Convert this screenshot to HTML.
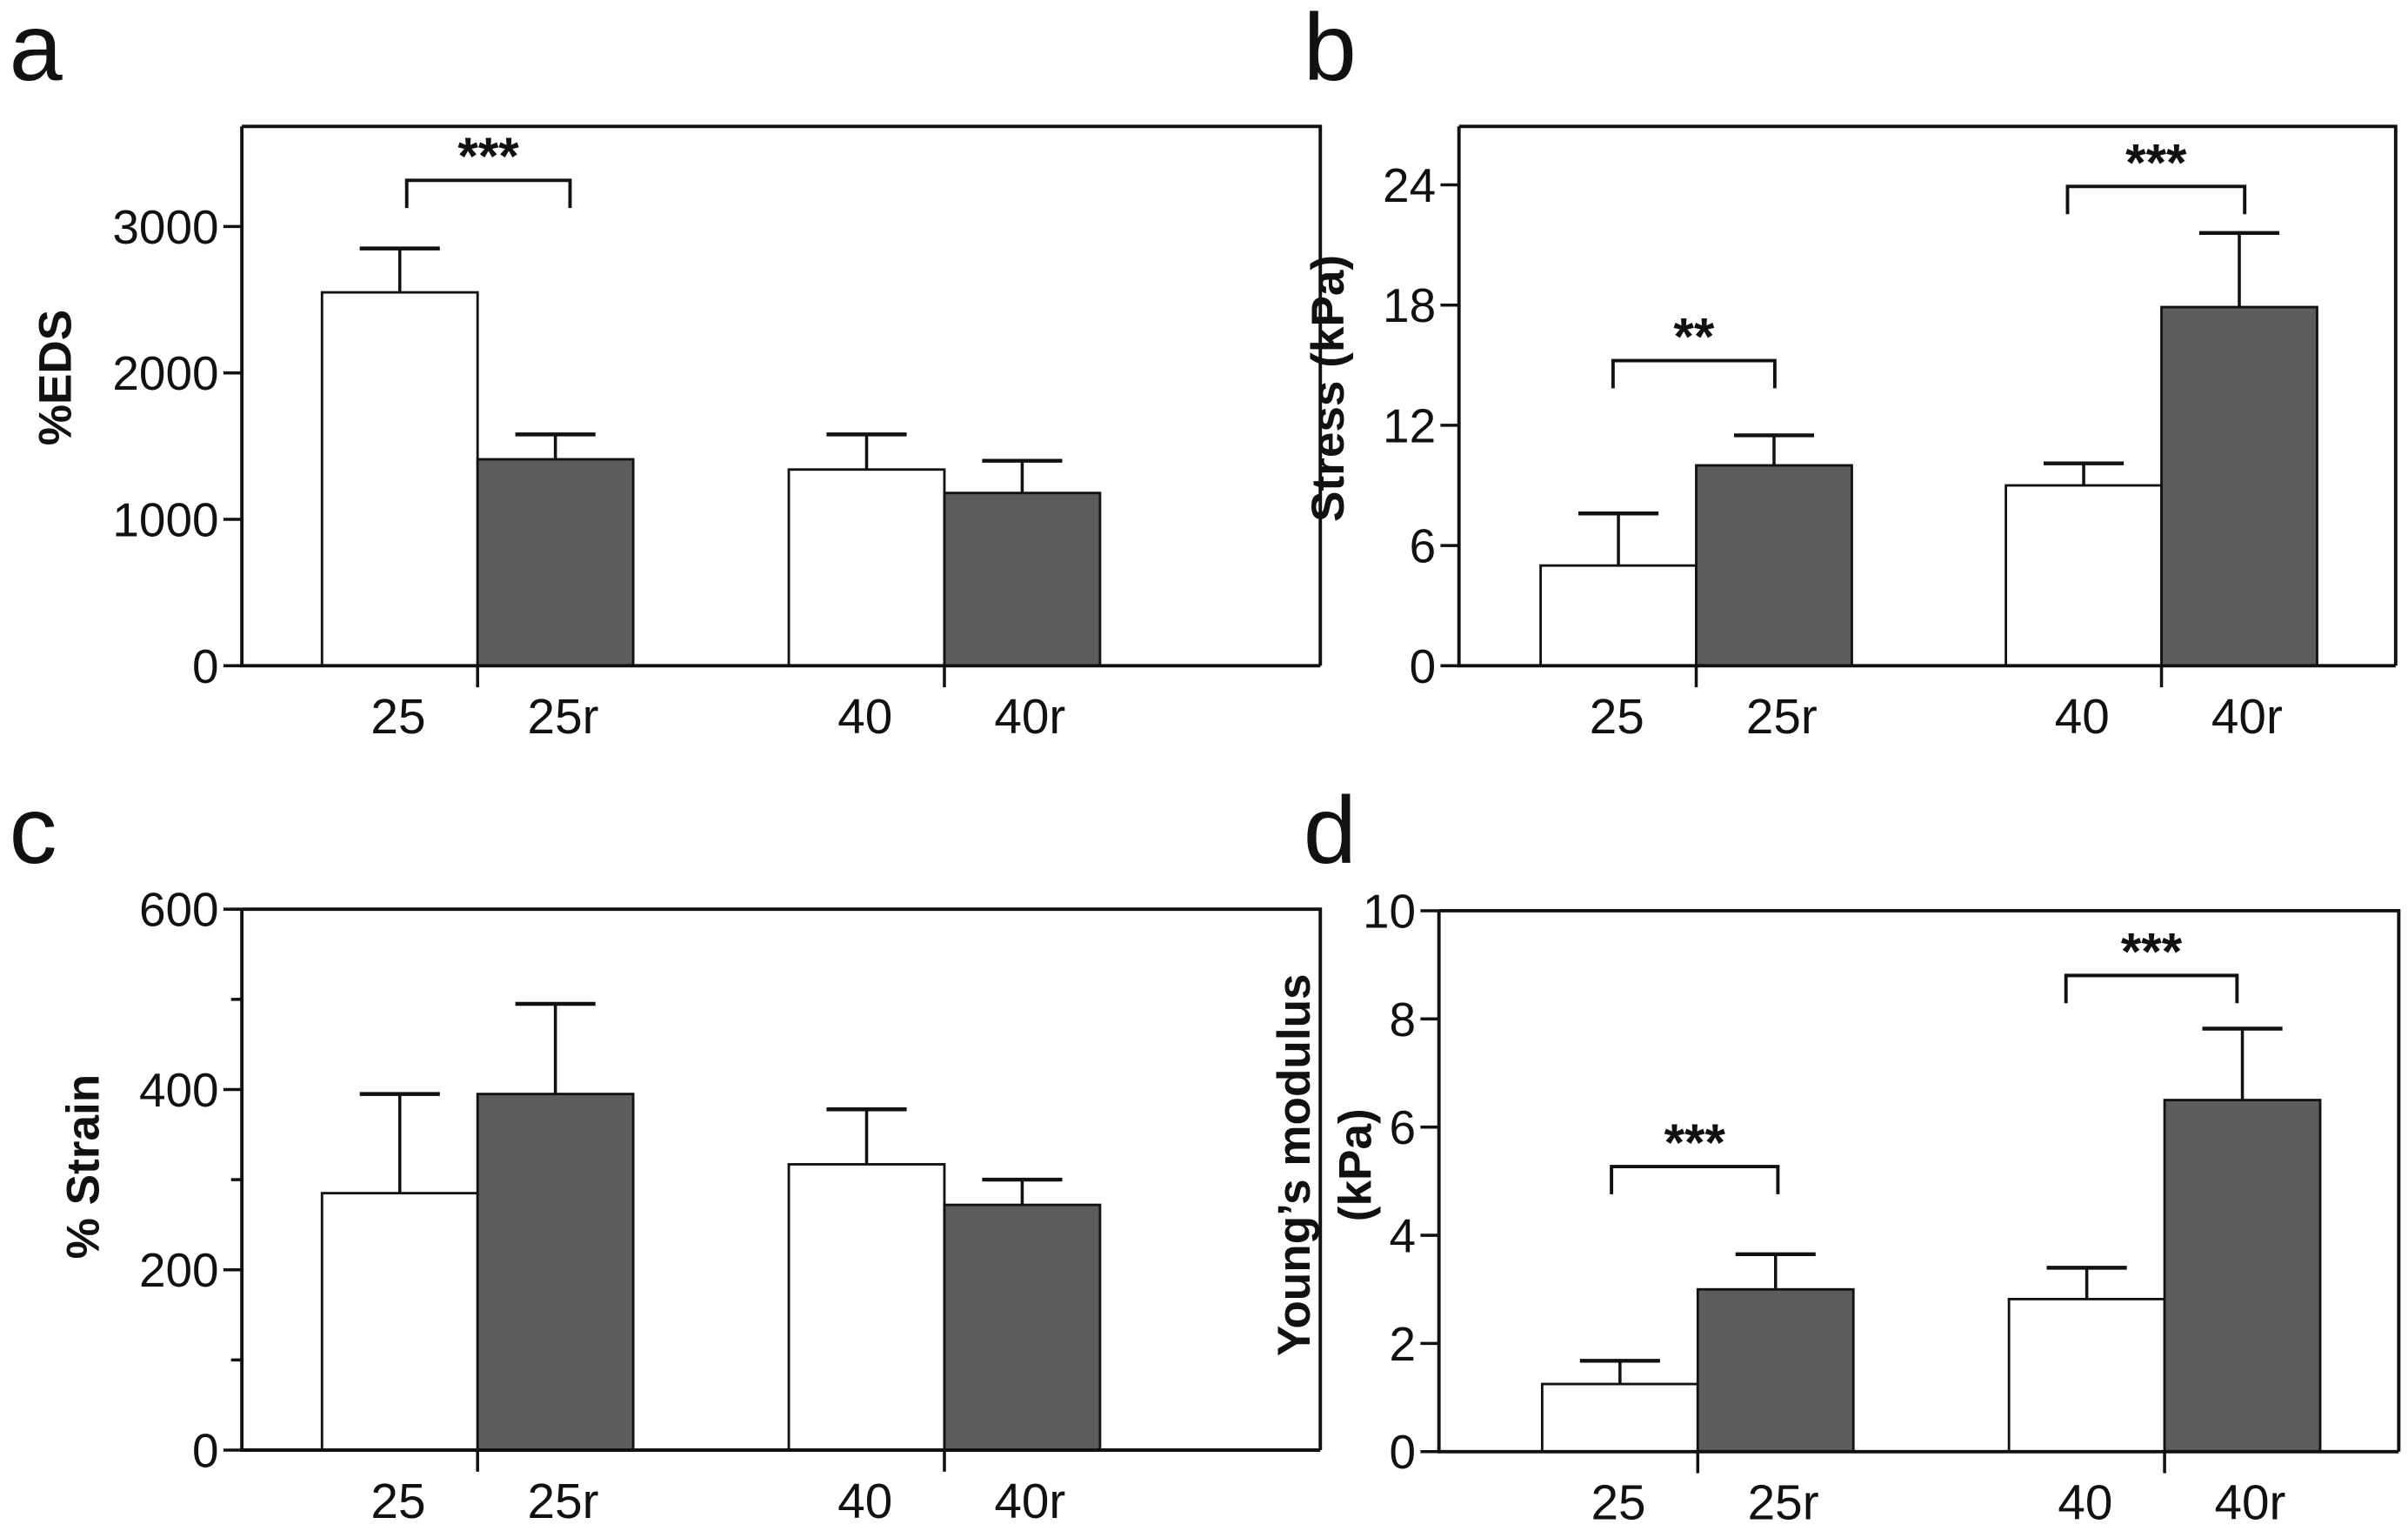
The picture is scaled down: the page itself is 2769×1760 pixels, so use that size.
<!DOCTYPE html>
<html><head><meta charset="utf-8"><style>
html,body{margin:0;padding:0;background:#fff}
svg{display:block}
text{font-family:"Liberation Sans",Arial,sans-serif;fill:#111}
</style></head><body>
<svg id="fig" xmlns="http://www.w3.org/2000/svg" width="2769" height="1760" viewBox="0 0 1563 993.5" preserveAspectRatio="none"></svg>
<script>
const categories = ["25","25r","40","40r"];
const edsValues = [2550,1410,1340,1180];
const edsErrors = [300,170,240,220];
const edsTicks = [0,1000,2000,3000];
const stressValues = [5.0,10.0,9.0,17.9];
const stressErrors = [2.6,1.5,1.1,3.7];
const stressTicks = [0,6,12,18,24];
const strainValues = [285,395,317,272];
const strainErrors = [110,100,61,28];
const strainTicks = [0,200,400,600];
const strainMinor = [100,300,500];
const youngValues = [1.25,3.0,2.82,6.5];
const youngErrors = [0.43,0.65,0.58,1.32];
const youngTicks = [0,2,4,6,8,10];

const NS="http://www.w3.org/2000/svg";
const svg=document.getElementById('fig');
function mk(tag,attrs,parent){const e=document.createElementNS(NS,tag);for(const k in attrs)e.setAttribute(k,attrs[k]);(parent||svg).appendChild(e);return e;}

function panel(cfg){
  const g=mk('g',{});
  
  
  const {L,R,T,B,ymax}=cfg;
  const y=v=>B-(v/ymax)*(B-T);
  const lt=mk('text',{x:cfg.lx,y:cfg.ly,'font-size':62},g);lt.textContent=cfg.letter;
  
  
  const bx=[cfg.bx0,cfg.bx0+101,cfg.bx1,cfg.bx1+101];
  cfg.vals.forEach((v,i)=>{
    const x0=bx[i],w=101,cx=x0+w/2;
    const ey=y(v+cfg.errs[i]);
    const el=mk('line',{x1:cx,x2:cx,y1:y(v),y2:ey,stroke:'#111','stroke-width':2},g);
    
    
    const cap=mk('line',{x1:cx-26,x2:cx+26,y1:ey,y2:ey,stroke:'#111','stroke-width':2.5},g);
    
    
    const r=mk('rect',{x:x0,y:y(v),width:w,height:B-y(v),fill:i%2?'#5c5c5c':'#fff',stroke:'#111','stroke-width':1.6},g);
    
    
    const t=mk('text',{x:cx+(i%2?5:-1),y:B+44,'font-size':32,'text-anchor':'middle'},g);t.textContent=categories[i];
    
    
  });
  const box=mk('path',{d:`M${L},${T}H${R}V${B}M${L},${T}V${B}H${R}`,fill:'none',stroke:'#111','stroke-width':2.2},g);
  
  
  [bx[1],bx[3]].forEach(x=>{const l=mk('line',{x1:x,x2:x,y1:B,y2:B+14,stroke:'#111','stroke-width':2},g);
    
    });
  cfg.ticks.forEach(v=>{
    const l=mk('line',{x1:L-12,x2:L,y1:y(v),y2:y(v),stroke:'#111','stroke-width':2},g);
    
    
    const t=mk('text',{x:L-15,y:y(v)+11,'font-size':31,'text-anchor':'end'},g);t.textContent=v;
    
    
  });
  (cfg.minor||[]).forEach(v=>{
    const l=mk('line',{x1:L-7,x2:L,y1:y(v),y2:y(v),stroke:'#111','stroke-width':2},g);
    
    
  });
  cfg.title.forEach((s,k)=>{
    const tx=cfg.tx+k*40;
    const t=mk('text',{x:tx,y:cfg.ty,'font-size':30,'font-weight':'bold','text-anchor':'middle',transform:`rotate(-90 ${tx} ${cfg.ty})`},g);t.textContent=s;
    
    
  });
  (cfg.br||[]).forEach(b=>{
    const p=mk('path',{d:`M${b[0]},${b[2]+18}V${b[2]}H${b[1]}V${b[2]+18}`,fill:'none',stroke:'#111','stroke-width':2.2},g);
    
    
    const t=mk('text',{x:(b[0]+b[1])/2,y:b[2]-4,'font-size':34,'font-weight':'bold','text-anchor':'middle'},g);t.textContent=b[3];
    
    
  });
}
panel({name:'panel-a-eds',letter:'a',lx:6,ly:52,L:157,R:857,T:82,B:432,ymax:3684,bx0:209,bx1:512,vals:edsValues,errs:edsErrors,ticks:edsTicks,title:['%EDS'],tx:46,ty:245,br:[[264,370,117,'***']]});
panel({name:'panel-b-stress',letter:'b',lx:846,ly:52,L:947,R:1555,T:82,B:432,ymax:26.92,bx0:1000,bx1:1302,vals:stressValues,errs:stressErrors,ticks:stressTicks,title:['Stress (kPa)'],tx:872,ty:252,br:[[1047,1152,234,'**'],[1342,1457,121,'***']]});
panel({name:'panel-c-strain',letter:'c',lx:6,ly:560,L:157,R:857,T:590,B:941,ymax:600,bx0:209,bx1:512,vals:strainValues,errs:strainErrors,ticks:strainTicks,minor:strainMinor,title:['% Strain'],tx:64,ty:757,br:[]});
panel({name:'panel-d-youngs-modulus',letter:'d',lx:846,ly:560,L:934,R:1557,T:591,B:942,ymax:10,bx0:1001,bx1:1304,vals:youngValues,errs:youngErrors,ticks:youngTicks,title:["Young’s modulus","(kPa)"],tx:850,ty:756,br:[[1046,1154,757,'***'],[1341,1452,633,'***']]});
</script>
</body></html>
